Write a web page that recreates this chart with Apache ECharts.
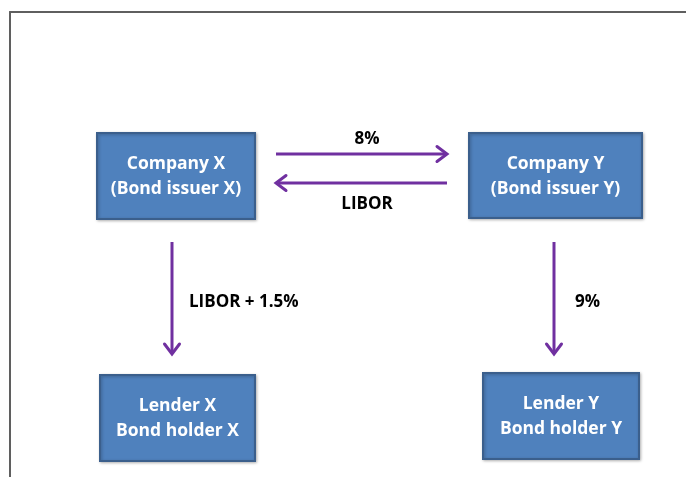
<!DOCTYPE html>
<html>
<head>
<meta charset="utf-8">
<script src="https://cdn.jsdelivr.net/npm/echarts@6/dist/echarts.min.js"></script>
<style>
html, body { margin: 0; padding: 0; background: #fff; }
#chart { width: 686px; height: 477px; }
</style>
</head>
<body>
<div id="chart"></div>
<script>
// boxes of the diagram, in diagram units (left, top, right, bottom)
const boxLabels = ['Company X\n(Bond issuer X)', 'Company Y\n(Bond issuer Y)', 'Lender X\nBond holder X', 'Lender Y\nBond holder Y'];
const boxLeft = [97, 469, 100, 483];
const boxTop = [133, 133, 375, 373];
const boxRight = [255, 642, 255, 639];
const boxBottom = [219, 218, 461, 459];

// payment flows, start -> end, and where their label sits
const flowLabels = ['8%', 'LIBOR', 'LIBOR + 1.5%', '9%'];
const flowStartX = [276, 447, 172, 554];
const flowStartY = [154, 183, 242, 242];
const flowEndX = [447, 276, 172, 554];
const flowEndY = [154, 183, 354, 354];
const flowLabelX = [367, 367, 189, 575];
const flowLabelY = [139, 204, 302, 302];

const boxData = boxLabels.map((name, i) => [boxLeft[i], boxTop[i], boxRight[i], boxBottom[i], name]);
const flowData = flowLabels.map((name, i) => [flowStartX[i], flowStartY[i], flowEndX[i], flowEndY[i], flowLabelX[i], flowLabelY[i], name]);

const purple = '#7030A0';
const font = '"Open Sans", Lato, sans-serif';

const chart = echarts.init(document.getElementById('chart'));

const option = {
    animation: false,
    grid: { left: 10, top: 12, right: 0, bottom: 0 },
    xAxis: {
        type: 'value', min: 10, max: 686, position: 'top',
        axisLine: { show: true, onZero: false, lineStyle: { color: '#5f5f5f', width: 2 } },
        axisTick: { show: false }, axisLabel: { show: false }, splitLine: { show: false }
    },
    yAxis: {
        type: 'value', min: 12, max: 477, inverse: true, position: 'left',
        axisLine: { show: true, onZero: false, lineStyle: { color: '#5f5f5f', width: 2 } },
        axisTick: { show: false }, axisLabel: { show: false }, splitLine: { show: false }
    },
    series: [
        {
            // boxes
            type: 'custom',
            data: boxData,
            renderItem: function (params, api) {
                const p0 = api.coord([api.value(0), api.value(1)]);
                const p1 = api.coord([api.value(2), api.value(3)]);
                const name = boxData[params.dataIndex][4];
                return {
                    type: 'group',
                    children: [
                        {
                            type: 'rect',
                            shape: { x: p0[0], y: p0[1], width: p1[0] - p0[0], height: p1[1] - p0[1] },
                            style: {
                                fill: '#4F81BD', stroke: '#3B5F8C', lineWidth: 2,
                                shadowBlur: 3, shadowColor: 'rgba(0,0,0,0.25)', shadowOffsetX: 1, shadowOffsetY: 1
                            }
                        },
                        {
                            type: 'text',
                            x: (p0[0] + p1[0]) / 2,
                            y: (p0[1] + p1[1]) / 2 + 1,
                            style: {
                                text: name, fill: '#fff', font: 'bold 17.5px ' + font,
                                align: 'center', verticalAlign: 'middle', lineHeight: 25
                            }
                        }
                    ]
                };
            }
        },
        {
            // flow arrows with open heads
            type: 'custom',
            data: flowData,
            renderItem: function (params, api) {
                const a = api.coord([api.value(0), api.value(1)]);
                const b = api.coord([api.value(2), api.value(3)]);
                const t = api.coord([api.value(4), api.value(5)]);
                const name = flowData[params.dataIndex][6];
                const dx = b[0] - a[0], dy = b[1] - a[1];
                const len = Math.sqrt(dx * dx + dy * dy);
                const ux = dx / len, uy = dy / len;
                const back = 10, side = 7.5;
                const h1 = [b[0] - ux * back - uy * side, b[1] - uy * back + ux * side];
                const h2 = [b[0] - ux * back + uy * side, b[1] - uy * back - ux * side];
                const horizontal = Math.abs(dy) < 1;
                return {
                    type: 'group',
                    children: [
                        {
                            type: 'line',
                            shape: { x1: a[0], y1: a[1], x2: b[0] - ux * 1.5, y2: b[1] - uy * 1.5 },
                            style: { stroke: purple, lineWidth: 3 }
                        },
                        {
                            type: 'polyline',
                            shape: { points: [h1, b, h2] },
                            style: { stroke: purple, lineWidth: 3, fill: null, lineJoin: 'miter', lineCap: 'round' }
                        },
                        {
                            type: 'text',
                            x: t[0], y: t[1],
                            style: {
                                text: name, fill: '#000', font: 'bold 17px ' + font,
                                align: horizontal ? 'center' : 'left', verticalAlign: 'middle'
                            }
                        }
                    ]
                };
            }
        }
    ]
};

chart.setOption(option);
</script>
</body>
</html>
